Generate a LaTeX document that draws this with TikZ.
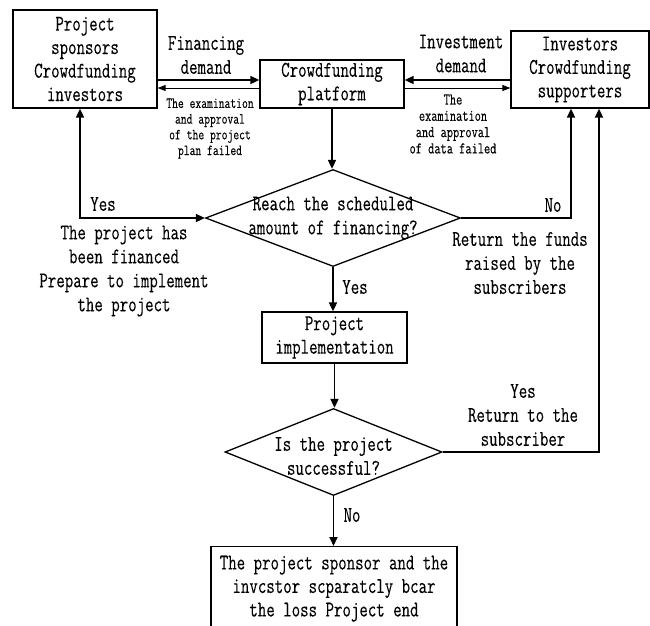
\documentclass[tikz,border=0pt]{standalone}
\usepackage{fontspec}
\setmainfont{Latin Modern Mono}[FakeStretch=0.73, FakeBold=0.2]
\usetikzlibrary{arrows.meta,shapes.geometric}

\tikzset{
  box/.style={draw, line width=1.3pt, inner sep=0pt, align=center, font=\fontsize{22.5}{23.5}\selectfont},
  decision/.style={draw, diamond, line width=1.3pt, inner sep=0pt},
  txt/.style={align=center, inner sep=0pt, font=\fontsize{22.5}{24}\selectfont},
  smallL/.style={align=center, inner sep=0pt, font=\fontsize{15.5}{15.7}\selectfont},
  smallR/.style={align=center, inner sep=0pt, font=\fontsize{16.5}{16.3}\selectfont},
  arr/.style={line width=1.8pt, -{Triangle[length=9pt,width=8pt]}},
  thinarr/.style={line width=0.9pt, -{Triangle[length=8pt,width=6pt]}},
  dblarr/.style={line width=1.8pt, {Triangle[length=9pt,width=8pt]}-{Triangle[length=9pt,width=8pt]}},
}

\begin{document}
\begin{tikzpicture}[x=1pt, y=-1pt]
\useasboundingbox (0,0) rectangle (650,625);
\clip (0,0) rectangle (650,625);

% top row
\node[box, minimum width=144pt, minimum height=98pt] (sponsor) at (85,59) {Project\\sponsors\\Crowdfunding\\investors};
\node[box, minimum width=144pt, minimum height=48pt] (platform) at (332,84) {Crowdfunding\\platform};
\node[box, minimum width=138pt, minimum height=77pt] (investor) at (580,69.5) {Investors\\Crowdfunding\\supporters};

% flow
\node[decision, minimum width=255pt, minimum height=97pt] (reach) at (333,218) {};
\node[txt] (reachq) at (reach.center) {Reach the scheduled\\amount of financing?};
\node[box, minimum width=145pt, minimum height=51pt] (impl) at (334.5,337.5) {Project\\implementation};
\node[decision, minimum width=217pt, minimum height=87pt] (success) at (333.5,452) {};
\node[txt] (successq) at (333.5,456) {Is the project\\successful?};
\node[box, minimum width=246pt, minimum height=84pt, anchor=north] (finish) at (334,546) {The project sponsor and the\\invcstor scparatcly bcar\\the loss Project end};

% arrows between top boxes
\coordinate (finA) at ([yshift=4pt]platform.west);
\coordinate (finB) at ([yshift=-4pt]platform.west);
\coordinate (invA) at ([yshift=4pt]platform.east);
\coordinate (invB) at ([yshift=-4pt]platform.east);
\draw[arr] (finA -| sponsor.east) -- (finA);
\draw[thinarr] (finB) -- (finB -| sponsor.east);
\draw[arr] (invA -| investor.west) -- (invA);
\draw[thinarr] (invB) -- (invB -| investor.west);

\node[txt] (findemand) at (206,55) {Financing\\demand};
\node[smallL] (finfail) at (210,128.5) {The examination\\and approval\\of the project\\plan failed};
\node[txt] (invdemand) at (461,53.5) {Investment\\demand};
\node[smallR] (invfail) at (453,124) {The\\examination\\and approval\\of data failed};

% flow connectors
\draw[arr] (platform.south) -- (platform.south |- reach.north);
\draw[dblarr] (reach.west) -| ([xshift=-5pt]sponsor.south);
\draw[arr] (reach.east) -| ([xshift=-9pt]investor.south);
\draw[arr] (reach.south) -- (reach.south |- impl.north);
\draw[arr] (impl.south) -- (impl.south |- success.north);
\draw[arr] (success.east) -| ([xshift=19pt]investor.south);
\draw[arr] (success.south) -- (success.south |- finish.north);

% labels
\node[txt] (yesL) at (103,204) {Yes};
\node[txt] (financed) at (124,271) {The project has\\been financed\\Prepare to implement\\the project};
\node[txt] (noR) at (553,205) {No};
\node[txt] (refund) at (520,263) {Return the funds\\raised by the\\subscribers};
\node[txt] (yesD) at (355,287) {Yes};
\node[txt] (yesS) at (523,415) {Yes\\Return to the\\subscriber};
\node[txt] (noS) at (352,515) {No};
\end{tikzpicture}
\end{document}
